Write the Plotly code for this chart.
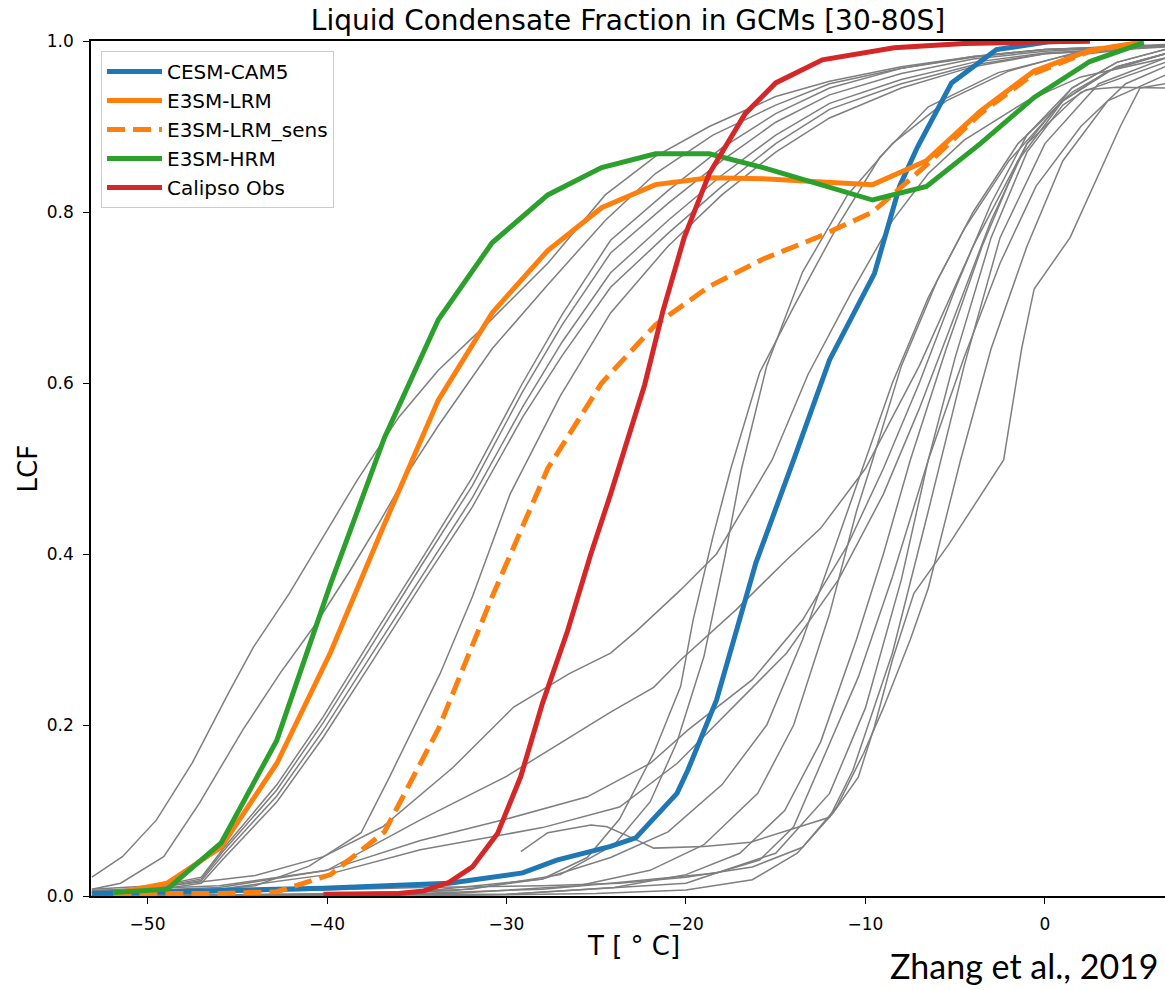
import plotly.graph_objects as go

# ---------------- highlighted models (T in degC, LCF) ----------------
T_grid = [-51.9, -48.9, -45.9, -42.8, -39.8, -36.8, -33.8, -30.8, -27.7, -24.7,
          -21.7, -18.7, -15.7, -12.6, -9.6, -6.6, -3.6, -0.6, 2.5, 5.5]

hrm_lcf = [0.004, 0.008, 0.062, 0.182, 0.365, 0.536, 0.674, 0.764, 0.820, 0.852,
           0.868, 0.868, 0.852, 0.833, 0.814, 0.830, 0.880, 0.934, 0.976, 0.998]
lrm_lcf = [0.003, 0.015, 0.057, 0.155, 0.285, 0.435, 0.580, 0.682, 0.755, 0.805,
           0.832, 0.840, 0.839, 0.835, 0.832, 0.860, 0.918, 0.965, 0.989, 0.999]
sens_lcf = [0.003, 0.003, 0.003, 0.005, 0.025, 0.075, 0.195, 0.350, 0.500, 0.600,
            0.668, 0.713, 0.745, 0.771, 0.800, 0.855, 0.915, 0.962, 0.988, 0.999]

cesm_T = [-53.1, -40.2, -33.2, -29.1, -27.2, -24.2, -22.8, -20.5, -19.9, -18.3, -16.7,
          -16.1, -14.0, -12.0, -9.5, -8.1, -7.1, -5.2, -2.7, 0.2, 2.5]
cesm_lcf = [0.003, 0.009, 0.015, 0.027, 0.042, 0.058, 0.068, 0.120, 0.147, 0.229, 0.346,
            0.390, 0.510, 0.627, 0.728, 0.830, 0.876, 0.951, 0.990, 0.999, 1.000]

obs_T = [-40.2, -36.0, -34.6, -33.2, -31.9, -30.5, -29.2, -28.0, -26.6, -25.3, -24.2,
         -23.2, -22.3, -21.3, -20.1, -18.7, -16.7, -15.0, -12.4, -8.4, -4.5, 0.0, 2.5]
obs_lcf = [0.002, 0.003, 0.006, 0.016, 0.034, 0.073, 0.140, 0.225, 0.310, 0.400, 0.470,
           0.535, 0.598, 0.683, 0.770, 0.845, 0.915, 0.951, 0.978, 0.992, 0.997, 0.999, 1.000]

# ---------------- other GCMs (grey) ----------------
gA_T = [-53.1, -51.4, -49.5, -47.5, -45.5, -44.1, -42.1, -40.2, -38.3, -36.0, -33.8,
        -30.8, -27.7, -24.5, -21.7, -18.7, -15.0, -12.0, -8.0, -4.0, 0.0, 6.7]
gA_L = [0.022, 0.046, 0.089, 0.156, 0.237, 0.291, 0.354, 0.420, 0.487, 0.560, 0.615,
        0.675, 0.740, 0.820, 0.865, 0.900, 0.935, 0.953, 0.970, 0.982, 0.990, 0.995]
gB_T = [-53.1, -51.5, -49.1, -47.1, -44.7, -42.6, -40.6, -38.7, -37.0, -35.5, -33.8,
        -30.8, -27.7, -24.5, -21.7, -18.5, -15.0, -12.0, -8.0, -4.0, 0.0, 6.7]
gB_L = [0.008, 0.015, 0.046, 0.109, 0.194, 0.261, 0.319, 0.381, 0.440, 0.495, 0.550,
        0.640, 0.715, 0.790, 0.845, 0.890, 0.925, 0.950, 0.968, 0.981, 0.990, 0.995]
gC_T = [-53.1, -50.0, -47.0, -45.8, -42.8, -40.2, -37.4, -34.7, -31.9, -29.1, -26.9,
        -24.2, -21.0, -18.0, -15.0, -12.0, -8.0, -4.0, 0.0, 6.7]
gC1_L = [0.006, 0.009, 0.022, 0.055, 0.130, 0.210, 0.305, 0.395, 0.490, 0.600, 0.680,
         0.767, 0.825, 0.875, 0.915, 0.945, 0.968, 0.982, 0.990, 0.996]
gC2_L = [0.005, 0.008, 0.020, 0.052, 0.124, 0.203, 0.297, 0.388, 0.480, 0.590, 0.668,
         0.752, 0.810, 0.860, 0.905, 0.937, 0.962, 0.979, 0.988, 0.995]
gC3_L = [0.004, 0.007, 0.018, 0.048, 0.117, 0.194, 0.286, 0.375, 0.466, 0.572, 0.648,
         0.729, 0.790, 0.843, 0.890, 0.927, 0.955, 0.975, 0.986, 0.994]
gC4_L = [0.003, 0.006, 0.015, 0.043, 0.110, 0.186, 0.277, 0.366, 0.455, 0.560, 0.632,
         0.712, 0.775, 0.830, 0.880, 0.920, 0.950, 0.972, 0.985, 0.994]
gD_T = [-53.1, -48.0, -44.0, -41.0, -38.1, -36.5, -33.7, -31.9, -29.8, -27.0, -24.2,
        -21.0, -18.0, -15.0, -12.0, -8.0, -4.0, 0.0, 6.7]
gD_L = [0.002, 0.004, 0.012, 0.035, 0.074, 0.140, 0.260, 0.350, 0.470, 0.585, 0.682,
        0.760, 0.820, 0.870, 0.910, 0.945, 0.970, 0.985, 0.993]
gM1_T = [-53.1, -48.0, -44.0, -40.2, -36.9, -33.0, -29.6, -26.5, -24.2, -22.7, -20.3,
         -18.3, -15.2, -13.2, -10.8, -8.5, -6.5, -4.5, -1.0, 2.0, 6.7]
gM1_L = [0.008, 0.014, 0.024, 0.046, 0.081, 0.150, 0.221, 0.260, 0.284, 0.311, 0.358,
         0.400, 0.510, 0.610, 0.705, 0.790, 0.845, 0.884, 0.930, 0.958, 0.980]
gM2_T = [-53.1, -46.0, -40.0, -34.8, -30.0, -27.4, -24.2, -21.8, -20.3, -17.2, -14.4,
         -12.5, -10.0, -7.0, -4.0, -1.0, 2.0, 6.7]
gM2_L = [0.006, 0.012, 0.030, 0.089, 0.140, 0.174, 0.215, 0.244, 0.276, 0.335, 0.393,
         0.430, 0.500, 0.620, 0.760, 0.880, 0.940, 0.975]
gM3_T = [-53.1, -46.0, -40.0, -34.8, -30.0, -25.5, -22.0, -19.9, -16.3, -13.5, -11.0,
         -9.0, -7.0, -5.0, -3.0, -1.0, 1.5, 4.0, 6.7]
gM3_L = [0.004, 0.010, 0.030, 0.065, 0.090, 0.116, 0.155, 0.194, 0.253, 0.323, 0.410,
         0.500, 0.600, 0.710, 0.810, 0.890, 0.945, 0.975, 0.990]
gM4_T = [-53.1, -46.0, -40.0, -34.8, -28.0, -23.7, -20.5, -18.1, -14.4, -11.5, -9.0,
         -7.0, -5.0, -3.0, -1.0, 1.5, 4.0, 6.7]
gM4_L = [0.003, 0.008, 0.025, 0.054, 0.080, 0.104, 0.155, 0.206, 0.284, 0.370, 0.470,
         0.570, 0.680, 0.790, 0.880, 0.945, 0.975, 0.990]
gH_T = [-29.2, -27.7, -25.3, -24.4, -22.7, -21.8, -19.0, -16.4, -12.0, -10.7, -8.5,
        -6.5, -4.5, -2.5, 0.0, 3.0, 6.7]
gH_L = [0.052, 0.074, 0.083, 0.081, 0.065, 0.056, 0.058, 0.063, 0.092, 0.147, 0.284,
        0.450, 0.620, 0.770, 0.880, 0.950, 0.980]
gR1_T = [-53.1, -40.0, -33.0, -28.0, -25.5, -23.7, -21.8, -20.3, -19.6, -18.5, -17.5,
         -15.9, -14.0, -11.6, -9.2, -6.5, -2.6, 1.0, 6.7]
gR1_L = [0.000, 0.002, 0.006, 0.020, 0.045, 0.090, 0.167, 0.245, 0.323, 0.420, 0.500,
         0.612, 0.689, 0.782, 0.864, 0.923, 0.963, 0.982, 0.995]
gR1b_T = [-53.1, -40.0, -32.0, -27.0, -24.0, -22.0, -20.5, -19.0, -17.8, -16.9, -15.5,
          -13.5, -11.0, -8.5, -5.5, -2.0, 1.5, 6.7]
gR1b_L = [0.000, 0.002, 0.008, 0.025, 0.060, 0.110, 0.180, 0.280, 0.400, 0.500, 0.620,
          0.730, 0.820, 0.880, 0.930, 0.965, 0.985, 0.995]
gR2_T = [-53.1, -35.0, -28.0, -24.2, -18.3, -15.9, -14.0, -12.4, -10.4, -8.5, -6.5,
         -4.5, -2.5, -0.5, 2.0, 4.5, 6.7]
gR2_L = [0.000, 0.003, 0.008, 0.015, 0.027, 0.042, 0.081, 0.159, 0.256, 0.373, 0.510,
         0.630, 0.740, 0.830, 0.900, 0.950, 0.970]
gR3_T = [-53.1, -34.8, -28.0, -23.7, -20.0, -16.3, -13.5, -11.6, -10.1, -9.0, -7.5,
         -6.5, -4.7, -3.0, -1.0, 1.0, 3.5, 6.7]
gR3_L = [0.000, 0.010, 0.012, 0.015, 0.022, 0.034, 0.057, 0.104, 0.167, 0.220, 0.300,
         0.360, 0.510, 0.640, 0.760, 0.860, 0.930, 0.960]
gR4_T = [-53.1, -42.0, -35.0, -28.0, -24.2, -21.0, -18.0, -15.5, -13.5, -11.5, -10.0,
         -8.5, -6.5, -4.5, -2.0, 1.0, 4.0, 6.7]
gR4_L = [0.000, 0.002, 0.005, 0.020, 0.045, 0.075, 0.130, 0.200, 0.300, 0.420, 0.510,
         0.600, 0.700, 0.780, 0.860, 0.930, 0.970, 0.985]
gR5_T = [-53.1, -40.0, -33.0, -26.0, -22.0, -19.0, -16.0, -14.0, -12.0, -10.5, -9.6,
         -8.0, -6.0, -4.0, -1.5, 1.5, 4.0, 6.7]
gR5_L = [0.000, 0.001, 0.003, 0.012, 0.030, 0.060, 0.120, 0.200, 0.330, 0.450, 0.510,
         0.620, 0.720, 0.800, 0.880, 0.940, 0.970, 0.985]
gR7_T = [-53.1, -36.0, -30.0, -24.0, -20.0, -17.0, -14.5, -12.5, -10.5, -9.0, -7.5,
         -5.5, -3.5, -1.5, 1.0, 3.5, 6.7]
gR7_L = [0.000, 0.001, 0.002, 0.010, 0.025, 0.050, 0.100, 0.180, 0.300, 0.400, 0.510,
         0.640, 0.760, 0.860, 0.930, 0.965, 0.985]
gR8_T = [-53.1, -30.0, -20.0, -15.0, -12.0, -10.0, -8.0, -6.5, -5.0, -3.0, -1.0, 1.0,
         2.3, 4.0, 6.7]
gR8_L = [0.000, 0.002, 0.015, 0.050, 0.120, 0.220, 0.370, 0.510, 0.630, 0.770, 0.870,
         0.925, 0.943, 0.946, 0.945]
gRz_T = [-53.1, -34.8, -25.0, -20.0, -16.3, -13.8, -11.8, -10.4, -9.5, -8.5, -7.3,
         -5.3, -2.3, -1.3, -0.6, 1.4, 4.2, 5.3, 6.7]
gRz_L = [0.000, 0.000, 0.003, 0.007, 0.019, 0.050, 0.097, 0.139, 0.198, 0.276, 0.354,
         0.413, 0.510, 0.640, 0.710, 0.770, 0.900, 0.945, 0.950]

grey_models = [
    (gA_T, gA_L), (gB_T, gB_L), (gC_T, gC1_L), (gC_T, gC2_L), (gC_T, gC3_L),
    (gC_T, gC4_L), (gD_T, gD_L), (gM1_T, gM1_L), (gM2_T, gM2_L), (gM3_T, gM3_L),
    (gM4_T, gM4_L), (gH_T, gH_L), (gR1_T, gR1_L), (gR1b_T, gR1b_L), (gR2_T, gR2_L),
    (gR3_T, gR3_L), (gR4_T, gR4_L), (gR5_T, gR5_L), (gR7_T, gR7_L), (gR8_T, gR8_L),
    (gRz_T, gRz_L),
]

x_ticks = [-50, -40, -30, -20, -10, 0]
y_ticks = [0.0, 0.2, 0.4, 0.6, 0.8, 1.0]

fig = go.Figure()
for t, l in grey_models:
    fig.add_trace(go.Scatter(x=t, y=l, mode="lines", showlegend=False,
                             line=dict(color="#7f7f7f", width=1.5), hoverinfo="skip"))

fig.add_trace(go.Scatter(x=cesm_T, y=cesm_lcf, mode="lines", name="CESM-CAM5",
                         line=dict(color="#1f77b4", width=5)))
fig.add_trace(go.Scatter(x=T_grid, y=lrm_lcf, mode="lines", name="E3SM-LRM",
                         line=dict(color="#ff7f0e", width=5)))
fig.add_trace(go.Scatter(x=T_grid, y=sens_lcf, mode="lines", name="E3SM-LRM_sens",
                         line=dict(color="#ff7f0e", width=5, dash="18px,8px")))
fig.add_trace(go.Scatter(x=T_grid, y=hrm_lcf, mode="lines", name="E3SM-HRM",
                         line=dict(color="#2ca02c", width=5)))
fig.add_trace(go.Scatter(x=obs_T, y=obs_lcf, mode="lines", name="Calipso Obs",
                         line=dict(color="#d62728", width=5)))

W, H = 1165, 990
L, R, T, B = 91, 0, 41, 94
pw, ph = W - L - R, H - T - B

fig.update_layout(
    width=W, height=H,
    margin=dict(l=L, r=R, t=T, b=B),
    paper_bgcolor="white", plot_bgcolor="white",
    font=dict(family="DejaVu Sans", color="black", size=17),
    title=dict(text="Liquid Condensate Fraction in GCMs [30-80S]",
               x=(L + pw / 2) / W, xanchor="center", xref="container",
               y=1 - 20 / H, yanchor="middle", yref="container",
               font=dict(family="DejaVu Sans", size=28, color="black")),
    showlegend=True,
    legend=dict(x=10 / pw, y=1 - 10 / ph, xanchor="left", yanchor="top",
                bgcolor="rgba(255,255,255,0.9)", bordercolor="#cccccc", borderwidth=1,
                font=dict(family="DejaVu Sans", size=20, color="black"),
                itemwidth=55, tracegroupgap=0),
    xaxis=dict(range=[-53.15, 6.69], tickvals=x_ticks, ticks="outside", ticklen=6,
               tickwidth=1.2, tickcolor="black", showline=True, linecolor="black",
               linewidth=1.5, mirror=True, showgrid=False, zeroline=False,
               tickfont=dict(size=17), ticklabelstandoff=6),
    yaxis=dict(range=[0, 1], tickvals=y_ticks, tickformat=".1f", ticks="outside",
               ticklen=6, tickwidth=1.2, tickcolor="black", showline=True,
               linecolor="black", linewidth=1.5, showgrid=False, zeroline=False,
               tickfont=dict(size=17), ticklabelstandoff=6),
    annotations=[
        dict(text="LCF", xref="paper", yref="paper", x=(27 - L) / pw, y=0.5,
             textangle=-90, showarrow=False, xanchor="center", yanchor="middle",
             font=dict(family="DejaVu Sans", size=26, color="black")),
        dict(text="T [ ° C]", xref="paper", yref="paper", x=(633 - L) / pw,
             y=-(946 - (T + ph)) / ph, showarrow=False, xanchor="center", yanchor="middle",
             font=dict(family="DejaVu Sans", size=26, color="black")),
        dict(text="Zhang et al., 2019", xref="paper", yref="paper", x=(1161 - L) / pw,
             y=-(965 - (T + ph)) / ph, showarrow=False, xanchor="right", yanchor="middle",
             font=dict(family="Lato", size=34, color="black")),
    ],
)

fig.write_html("out.html")
